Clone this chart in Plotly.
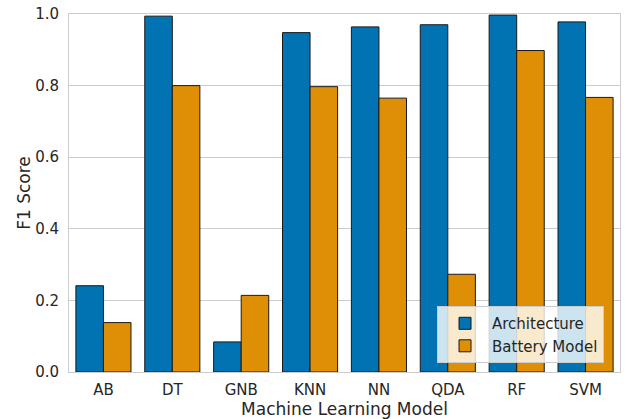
import plotly.graph_objects as go

# F1 scores per classifier for the two prediction targets
models = ["AB", "DT", "GNB", "KNN", "NN", "QDA", "RF", "SVM"]
architecture_f1 = [0.241, 0.994, 0.084, 0.948, 0.964, 0.970, 0.997, 0.978]
battery_model_f1 = [0.138, 0.800, 0.214, 0.797, 0.765, 0.273, 0.898, 0.767]
y_ticks = [0.0, 0.2, 0.4, 0.6, 0.8, 1.0]

FONT = "DejaVu Sans"
TEXT = "#262626"
GRID = "#cccccc"

fig = go.Figure()
fig.add_trace(go.Bar(
    x=models, y=architecture_f1, name="Architecture",
    marker=dict(color="#0173b2", line=dict(color="#1a1a1a", width=1)),
))
fig.add_trace(go.Bar(
    x=models, y=battery_model_f1, name="Battery Model",
    marker=dict(color="#de8f05", line=dict(color="#1a1a1a", width=1)),
))

fig.update_layout(
    width=626, height=419,
    margin=dict(l=69, r=5, t=11, b=47),
    paper_bgcolor="white", plot_bgcolor="white",
    barmode="group", bargap=0.2, bargroupgap=0,
    font=dict(family=FONT, size=15, color=TEXT),
    legend=dict(
        x=0.971, y=0.025, xanchor="right", yanchor="bottom",
        bgcolor="rgba(255,255,255,0.8)", bordercolor=GRID, borderwidth=1,
        font=dict(family=FONT, size=15, color=TEXT),
        tracegroupgap=2, itemwidth=44,
    ),
    showlegend=True,
)
fig.update_xaxes(
    range=[-0.5, len(models) - 0.5],
    showgrid=False, showline=True, linecolor=GRID, linewidth=1, mirror=True,
    ticks="", ticklabelstandoff=4,
    title=dict(text="Machine Learning Model", font=dict(size=17, color=TEXT), standoff=1),
    tickfont=dict(size=15, color=TEXT),
)
fig.update_yaxes(
    range=[0, 1.0], tickvals=y_ticks, tickformat=".1f",
    showgrid=True, gridcolor=GRID, gridwidth=1,
    showline=True, linecolor=GRID, linewidth=1, mirror=True,
    zeroline=False, ticks="", ticklabelstandoff=6,
    title=dict(text="F1 Score", font=dict(size=17, color=TEXT), standoff=0),
    tickfont=dict(size=15, color=TEXT),
)

fig.write_html("out.html")
